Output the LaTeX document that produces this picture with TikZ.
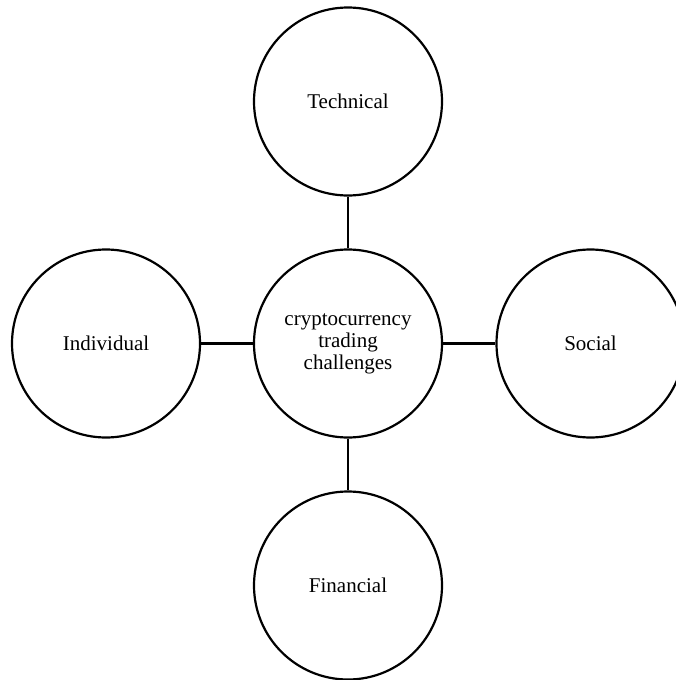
\documentclass[tikz,border=0pt]{standalone}
\usepackage{fontspec}
\setmainfont{Liberation Serif}
\begin{document}
\begin{tikzpicture}[x=1pt,y=1pt,
  bubble/.style={draw, circle, line width=2.2pt, minimum size=188pt, inner sep=0pt,
    align=center, font=\fontsize{21}{22}\selectfont},
  link/.style={line width=2.2pt}]
\useasboundingbox (0,0) rectangle (675,-680);
\node[bubble] (c) at (348,-343.5) {cryptocurrency\\trading\\challenges};
\node[bubble] (t) at (348,-101.5) {Technical};
\node[bubble] (f) at (348,-585.5) {Financial};
\node[bubble] (i) at (106,-343.5) {Individual};
\node[bubble] (s) at (590.5,-343.5) {Social};
\draw[link] (c) -- (t);
\draw[link] (c) -- (f);
\draw[link] (c) -- (i);
\draw[link] (c) -- (s);
\end{tikzpicture}
\end{document}
